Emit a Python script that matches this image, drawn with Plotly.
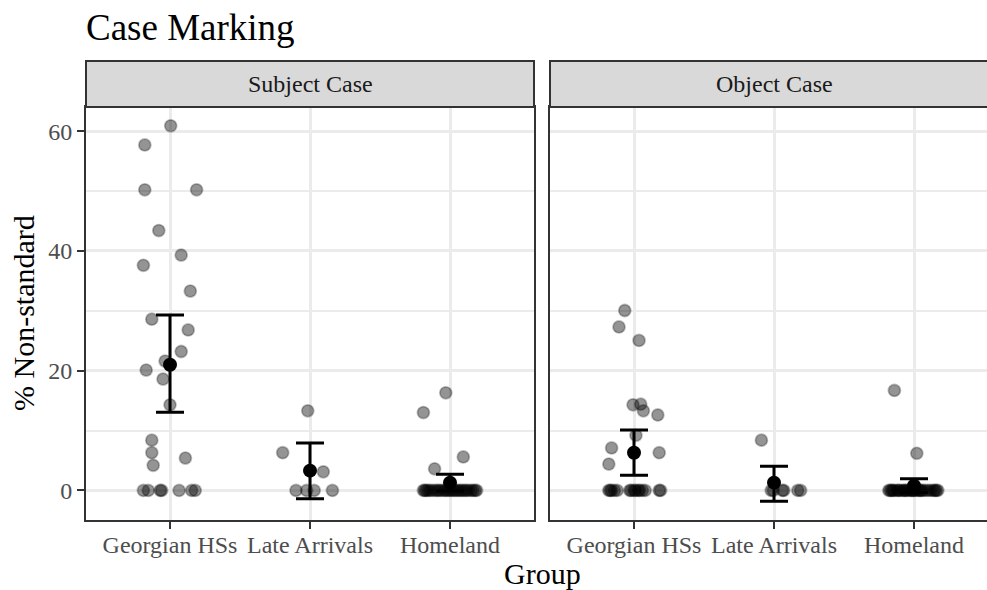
import plotly.graph_objects as go

# ---------------- data ----------------
groups = ["Georgian HSs", "Late Arrivals", "Homeland"]
panels = ["Subject Case", "Object Case"]

# Subject case: individual % non-standard, with horizontal jitter (category units)
subj_geo_vals = [60.9, 57.7, 50.2, 50.2, 43.4, 39.3, 37.6, 33.3, 28.6, 26.8, 23.2, 21.6, 20.1,
                 18.6, 14.3, 8.4, 6.3, 4.2, 5.4, 0, 0, 0, 0, 0, 0, 0]
subj_geo_jit = [0.005, -0.18, -0.18, 0.19, -0.08, 0.08, -0.19, 0.145, -0.13, 0.13, 0.08, -0.035, -0.17,
                -0.05, 0.0, -0.13, -0.13, -0.12, 0.11, -0.19, -0.155, -0.07, -0.06, 0.065, 0.155, 0.18]
subj_late_vals = [13.3, 6.3, 3.1, 0, 0, 0, 0]
subj_late_jit = [-0.016, -0.195, 0.095, -0.1, -0.024, 0.03, 0.16]
subj_home_vals = [16.3, 13.0, 5.6, 3.6] + [0] * 26
subj_home_jit = [-0.03, -0.19, 0.095, -0.11,
                 -0.19, -0.18, -0.17, -0.155, -0.14, -0.12, -0.1, -0.085, -0.07, -0.05, -0.035, -0.02, -0.005,
                 0.01, 0.025, 0.04, 0.055, 0.07, 0.085, 0.1, 0.115, 0.13, 0.15, 0.165, 0.18, 0.19]

# Object case
obj_geo_vals = [30.05, 27.3, 25.05, 14.3, 14.4, 13.3, 12.6, 9.2, 7.1, 6.3, 4.4] + [0] * 15
obj_geo_jit = [-0.066, -0.107, 0.036, -0.007, 0.048, 0.067, 0.17, 0.014, -0.16, 0.18, -0.18,
               -0.18, -0.17, -0.16, -0.14, -0.12, -0.03, -0.02, 0.0, 0.01, 0.03, 0.04, 0.06, 0.08, 0.18, 0.19]
obj_late_vals = [8.4, 0, 0, 0, 0, 0, 0]
obj_late_jit = [-0.09, -0.02, -0.005, 0.06, 0.07, 0.17, 0.19]
obj_home_vals = [16.7, 6.2] + [0] * 28
obj_home_jit = [-0.14, 0.02,
                -0.18, -0.17, -0.16, -0.15, -0.14, -0.12, -0.11, -0.1, -0.08, -0.07, -0.06, -0.05, -0.03, -0.02,
                -0.01, 0.0, 0.01, 0.03, 0.04, 0.05, 0.06, 0.08, 0.1, 0.12, 0.14, 0.15, 0.16, 0.17]

# Group means with error bar limits
subj_mean = [21.0, 3.3, 1.3]
subj_lo = [13.05, -1.4, -0.1]
subj_hi = [29.3, 7.9, 2.7]
obj_mean = [6.3, 1.3, 0.8]
obj_lo = [2.55, -1.8, -0.35]
obj_hi = [10.1, 4.05, 1.95]

# ---------------- figure ----------------
W, H = 987, 590
FONT = "Liberation Serif"
PT_FILL = "rgba(0,0,0,0.42)"
PT_LINE = "rgba(0,0,0,0.25)"


def px(x):
    return x / W


def py(y):
    return 1 - y / H


fig = go.Figure()

panel_data = [
    ([subj_geo_vals, subj_late_vals, subj_home_vals], [subj_geo_jit, subj_late_jit, subj_home_jit],
     subj_mean, subj_lo, subj_hi, "x", "y"),
    ([obj_geo_vals, obj_late_vals, obj_home_vals], [obj_geo_jit, obj_late_jit, obj_home_jit],
     obj_mean, obj_lo, obj_hi, "x2", "y2"),
]

for vals_list, jit_list, means, lo, hi, xa, ya in panel_data:
    for gi, (vals, jit) in enumerate(zip(vals_list, jit_list)):
        fig.add_trace(go.Scatter(
            x=[gi + j for j in jit], y=vals, mode="markers",
            marker=dict(size=12, color=PT_FILL, line=dict(color=PT_LINE, width=1.8)),
            xaxis=xa, yaxis=ya, showlegend=False, hoverinfo="y"))
    fig.add_trace(go.Scatter(
        x=list(range(len(groups))), y=means, mode="markers",
        marker=dict(size=14, color="black"),
        error_y=dict(type="data", symmetric=False,
                     array=[h - m for h, m in zip(hi, means)],
                     arrayminus=[m - l for m, l in zip(means, lo)],
                     color="black", thickness=3, width=14),
        xaxis=xa, yaxis=ya, showlegend=False))

tickfont = dict(family=FONT, size=24, color="#4D4D4D")
common_x = dict(tickvals=[0, 1, 2], ticktext=groups, showgrid=True, gridcolor="#EBEBEB", gridwidth=3,
                zeroline=False, showline=True, linecolor="#333333", linewidth=2, mirror=True,
                ticks="outside", ticklen=7, tickwidth=2, tickcolor="#333333", tickfont=tickfont,
                ticklabelstandoff=-5)
common_y = dict(range=[-4.94, 64.04], tick0=0, dtick=20, showgrid=True, gridcolor="#EBEBEB", gridwidth=3,
                minor=dict(dtick=10, showgrid=True, gridcolor="#EBEBEB", gridwidth=1.6, ticks=""),
                zeroline=False, showline=True, linecolor="#333333", linewidth=2,
                domain=[py(520), py(107)], tickfont=tickfont)

fig.update_layout(
    width=W, height=H, margin=dict(l=0, r=0, t=0, b=0),
    paper_bgcolor="white", plot_bgcolor="white",
    font=dict(family=FONT),
    xaxis=dict(domain=[px(86), px(534)], range=[-0.6, 2.6], anchor="y", **common_x),
    xaxis2=dict(domain=[px(550), 1], range=[-0.6, -0.6 + 437 / 140], anchor="y2", **common_x),
    yaxis=dict(anchor="x", mirror=True, ticks="outside", ticklen=7, tickwidth=2, tickcolor="#333333",
               **common_y),
    yaxis2=dict(anchor="x2", matches="y", mirror=False, ticks="", showticklabels=False, **common_y),
)

# facet strips
strips = [(86, 534, 310, panels[0]), (550, 1010, 774, panels[1])]
for x0, x1, xc, label in strips:
    fig.add_shape(type="rect", xref="paper", yref="paper", x0=px(x0), x1=px(x1), y0=py(107), y1=py(61),
                  fillcolor="#D9D9D9", line=dict(color="#333333", width=2), layer="above")
    fig.add_annotation(x=px(xc), y=py(84), xref="paper", yref="paper", text=label, showarrow=False,
                       xanchor="center", yanchor="middle", font=dict(family=FONT, size=24, color="#1A1A1A"))

# titles
fig.add_annotation(x=px(84), y=py(27), xref="paper", yref="paper", text="Case Marking", showarrow=False,
                   xanchor="left", yanchor="middle", font=dict(family=FONT, size=37, color="black"))
fig.add_annotation(x=px(23), y=py(313), xref="paper", yref="paper", text="% Non-standard", showarrow=False,
                   textangle=-90, xanchor="center", yanchor="middle",
                   font=dict(family=FONT, size=30, color="black"))
fig.add_annotation(x=px(542), y=py(573), xref="paper", yref="paper", text="Group", showarrow=False,
                   xanchor="center", yanchor="middle", font=dict(family=FONT, size=30, color="black"))

fig.write_html("out.html", config={"displayModeBar": False},
               post_script="document.body.style.margin='0';document.body.style.overflow='hidden';")
